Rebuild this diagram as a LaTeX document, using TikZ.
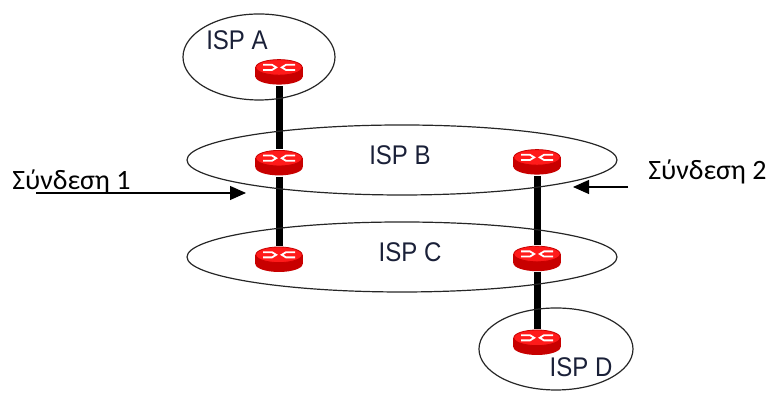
\documentclass[tikz,border=0pt]{standalone}
\usepackage{fontspec}
\setmainfont{Carlito}
\newfontfamily\ispfont[FakeStretch=0.89]{Liberation Sans}
\usetikzlibrary{shapes.geometric, positioning, arrows.meta, backgrounds}
\definecolor{routerred}{HTML}{FF1A1A}
\definecolor{routerdark}{HTML}{C80000}
\definecolor{ispblue}{HTML}{1A2038}
\tikzstyle{ispzone} = [
    ellipse, draw=black!85, line width=0.6pt,
    inner sep=0pt, outer sep=0pt % size comes from minimum width/height
]
\tikzstyle{isplabel} = [
    font=\ispfont\fontsize{13.5}{15}\selectfont, text=ispblue, inner sep=0pt
]
\tikzstyle{router} = [
    rectangle, minimum width=24.4pt, minimum height=13.4pt, inner sep=0pt,
    path picture={
        \begin{scope}[shift={(path picture bounding box.center)}]
            \fill[routerdark] (0,-2.3pt) ellipse [x radius=11.8pt, y radius=4pt];
            \fill[routerdark] (-11.8pt,-2.3pt) rectangle (11.8pt,2.3pt);
            \filldraw[fill=routerred, draw=routerdark, line width=0.4pt] (0,2.3pt) ellipse [x radius=11.6pt, y radius=3.9pt];
            \draw[white, line width=0.9pt] (-8pt,3.6pt) -- (-3.5pt,3.6pt) -- (-1.4pt,2.3pt) -- (-3.5pt,1pt) -- (-8pt,1pt);
            \draw[white, line width=0.9pt] (8pt,3.6pt) -- (3.5pt,3.6pt) -- (1.4pt,2.3pt) -- (3.5pt,1pt) -- (8pt,1pt);
        \end{scope}
    }
]
\tikzstyle{link} = [line width=3.5pt, black]
\tikzstyle{pointer} = [-{Triangle[length=8pt,width=7pt]}, line width=0.6pt]
\tikzstyle{caption} = [font=\fontsize{14}{16}\selectfont, inner sep=0pt, anchor=base west]

\begin{document}
\begin{tikzpicture}[x=0.5pt, y=0.5pt, node distance=34.5pt]
        \useasboundingbox (0,0) rectangle (773,394);

        % Provider domains
        \node[ispzone, minimum width=76pt, minimum height=43pt] (ispA) at (259,337) {};
        \node[ispzone, minimum width=215pt, minimum height=35pt] (ispB) at (402,234) {};
        \node[ispzone, minimum width=215pt, minimum height=35pt] (ispC) at (402,137) {};
        \node[ispzone, minimum width=77pt, minimum height=41pt] (ispD) at (556,45) {};

        \node[isplabel] (labA) at (237,354) {ISP A};
        \node[isplabel] (labB) at (400,239) {ISP B};
        \node[isplabel] (labC) at (410,142) {ISP C};
        \node[isplabel] (labD) at (581,27) {ISP D};

        % Routers
        \node[router] (rA) at (279,322) {};
        \node[router] (rB1) [below=31.6pt of rA] {};
        \node[router] (rC1) [below=of rB1] {};
        \node[router] (rB2) at (537,232) {};
        \node[router] (rC2) [below=of rB2] {};
        \node[router] (rD) [below=28.1pt of rC2] {};

        % Links between providers, kept under the routers
        \begin{pgfonlayer}{background}
            \draw[link] (rA) -- (rB1) -- (rC1);
            \draw[link] (rB2) -- (rC2) -- (rD);
        \end{pgfonlayer}

        % Captions with pointers
        \node[caption] (conOne) at (12,204) {Σύνδεση 1};
        \coordinate (conOneTail) at (36,201);
        \coordinate (conOneTip) at (246,201);
        \draw[pointer] (conOneTail) -- (conOneTip);

        \node[caption] (conTwo) at (648,214) {Σύνδεση 2};
        \coordinate (conTwoTail) at (628,207);
        \coordinate (conTwoTip) at (573,207);
        \draw[pointer] (conTwoTail) -- (conTwoTip);

    \end{tikzpicture}
\end{document}
